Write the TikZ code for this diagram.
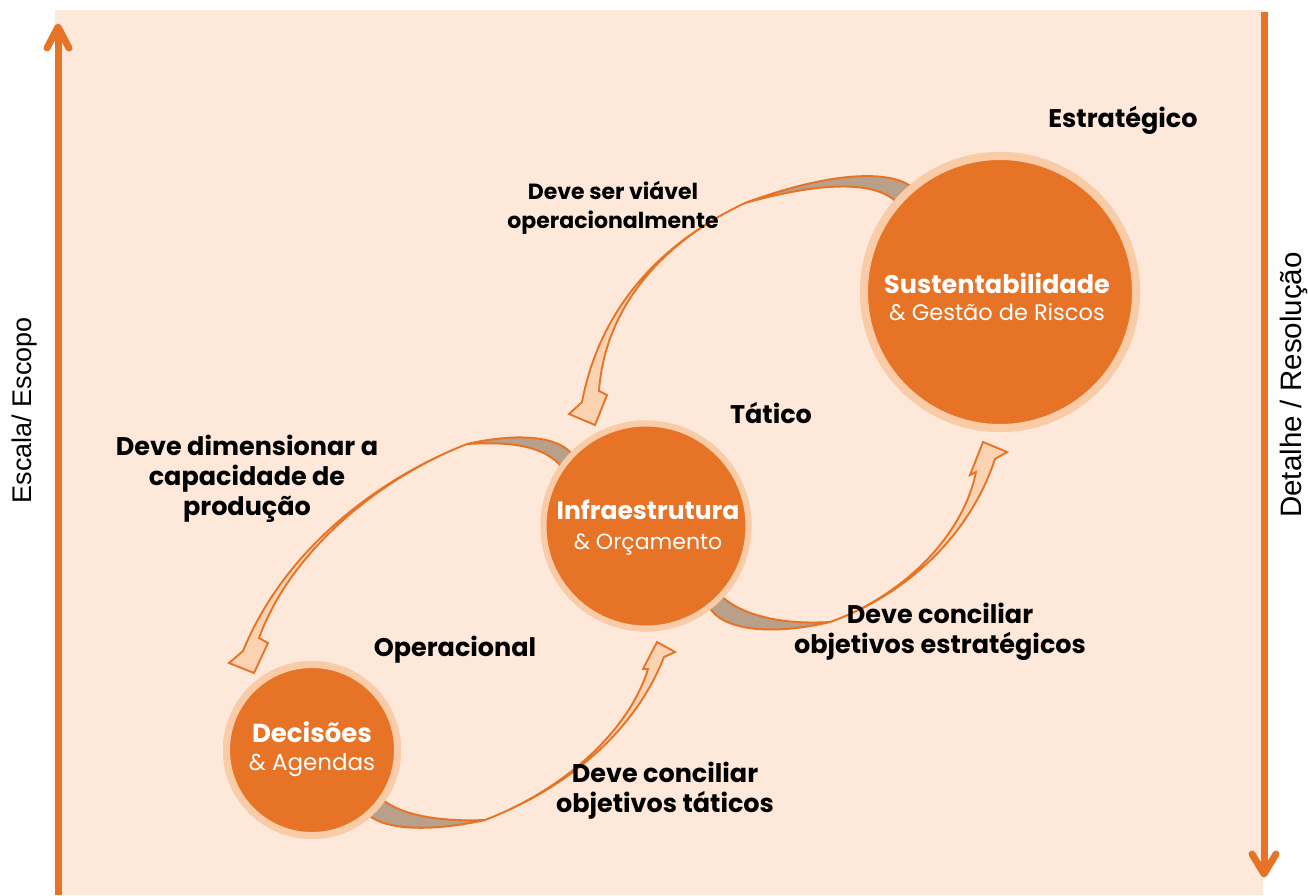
\documentclass[tikz,border=0pt]{standalone}
\usepackage{fontspec}
\newfontfamily\pop{Poppins}
\newfontfamily\lib{Liberation Sans}
\usetikzlibrary{calc}
\definecolor{bgpeach}{HTML}{FDE8D9}
\definecolor{orng}{HTML}{E77326}
\definecolor{ringc}{HTML}{F9CBA7}
\definecolor{tailg}{HTML}{B9A08B}
\definecolor{headp}{HTML}{FCD3B2}
\begin{document}
\begin{tikzpicture}[x=1pt,y=-1pt,
 bubble/.style={circle,fill=orng,draw=ringc,inner sep=0pt,outer sep=0pt},
 lbl/.style={font=\pop\bfseries\fontsize{25.5}{30}\selectfont,align=center,text=black,inner sep=0pt},
 wtxt/.style={text=white,align=center,inner sep=0pt},
 axisline/.style={draw=orng,line width=7pt},
 axishead/.style={draw=orng,line width=7pt,line cap=round,line join=round},
 side/.style={font=\lib\fontsize{27}{30}\selectfont,text=black,rotate=90,inner sep=0pt},
 tailband/.style={fill=tailg,draw=orng,line width=2pt,line join=round},
 frontband/.style={fill=headp,draw=orng,line width=1.9pt,line join=miter}
]
\useasboundingbox (0,0) rectangle (1308,895);
\fill[bgpeach] (55,10) rectangle (1263,895);

% axes
\coordinate (L0) at (58,895);
\coordinate (L1) at (58,27);
\draw[axisline] (L0) -- (L1);
\draw[axishead] (47,48) -- (L1) -- (69,48);
\coordinate (R0) at (1264,12);
\coordinate (R1) at (1264,874);
\draw[axisline] (R0) -- (R1);
\draw[axishead] (1252,854) -- (R1) -- (1276,854);

% circles (placed first so anchors exist; redrawn on top later)
\path (1000,292) node[bubble,minimum size=272pt,line width=8pt] (S) {};
\path (646,526) node[bubble,minimum size=205pt,line width=6pt] (I) {};
\path (312,750) node[bubble,minimum size=171pt,line width=7pt] (D) {};

% arrow 1: S -> I
\filldraw[tailband] (S.130) .. controls (895,172) and (840,168) .. (745,203)
  .. controls (820,182) and (875,180) .. (S.139) -- cycle;
\filldraw[frontband] (745,203) .. controls (650,248) and (598,318) .. (582,402)
  -- (569,414) -- (595,425) -- (607,395) -- (599,391)
  .. controls (604,318) and (650,248) .. (745,203) -- cycle;

% arrow 2: I -> D
\filldraw[tailband] (I.136) .. controls (560,437) and (520,432) .. (467,444)
  .. controls (515,441) and (545,447) .. (I.145) -- cycle;
\filldraw[frontband] (467,444) .. controls (380,478) and (285,548) .. (243,651)
  -- (229,663) -- (254,673) -- (268,643) -- (259,638)
  .. controls (291,550) and (380,478) .. (467,444) -- cycle;

% arrow 3: I -> S
\filldraw[tailband] (I.-43) .. controls (742,615) and (780,625) .. (830,622)
  .. controls (770,636) and (722,630) .. (I.-52) -- cycle;
\filldraw[frontband] (830,622) .. controls (898,598) and (962,540) .. (976,472)
  -- (970,475) -- (983,442) -- (1007,452) -- (995,459)
  .. controls (967,543) and (898,598) .. (830,622) -- cycle;

% arrow 4: D -> I
\filldraw[tailband] (D.-35) .. controls (400,815) and (440,822) .. (485,820)
  .. controls (430,832) and (385,830) .. (D.-49) -- cycle;
\filldraw[frontband] (485,820) .. controls (568,788) and (630,728) .. (648,669)
  -- (643,669) -- (657,642) -- (675,652) -- (664,657)
  .. controls (635,731) and (568,788) .. (485,820) -- cycle;

% circles on top
\node[bubble,minimum size=272pt,line width=8pt] at (S.center) {};
\node[bubble,minimum size=205pt,line width=6pt] at (I.center) {};
\node[bubble,minimum size=171pt,line width=7pt] at (D.center) {};

% circle texts
\node[wtxt,font=\pop\fontsize{22.5}{27}\selectfont] (St) at (997,297)
  {{\bfseries\fontsize{25.5}{27}\selectfont Sustentabilidade}\\\& Gestão de Riscos};
\node[wtxt,font=\pop\fontsize{22}{30}\selectfont] (It) at (648,528)
  {{\bfseries\fontsize{25}{30}\selectfont Infraestrutura}\\\& Orçamento};
\node[wtxt,font=\pop\fontsize{23}{28}\selectfont] (Dt) at (312,749)
  {{\bfseries\fontsize{26}{28}\selectfont Decisões}\\\& Agendas};

% labels
\node[lbl] (est) at (1123,120) {Estratégico};
\node[lbl] (tat) at (771,413) {Tático};
\node[lbl] (ope) at (455,650) {Operacional};
\node[lbl,font=\pop\bfseries\fontsize{22}{29}\selectfont] (l1) at (613,208) {Deve ser viável\\operacionalmente};
\node[lbl] (l2) at (247,479) {Deve dimensionar a\\capacidade de\\produção};
\node[lbl] (l3) at (940,632) {Deve conciliar\\objetivos estratégicos};
\node[lbl] (l4) at (665,791) {Deve conciliar\\objetivos táticos};

% side labels
\node[side] (esc) at (25,410) {Escala/ Escopo};
\node[side,font=\lib\fontsize{29.5}{32}\selectfont] (det) at (1294,385) {Detalhe / Resolução};
\end{tikzpicture}
\end{document}
